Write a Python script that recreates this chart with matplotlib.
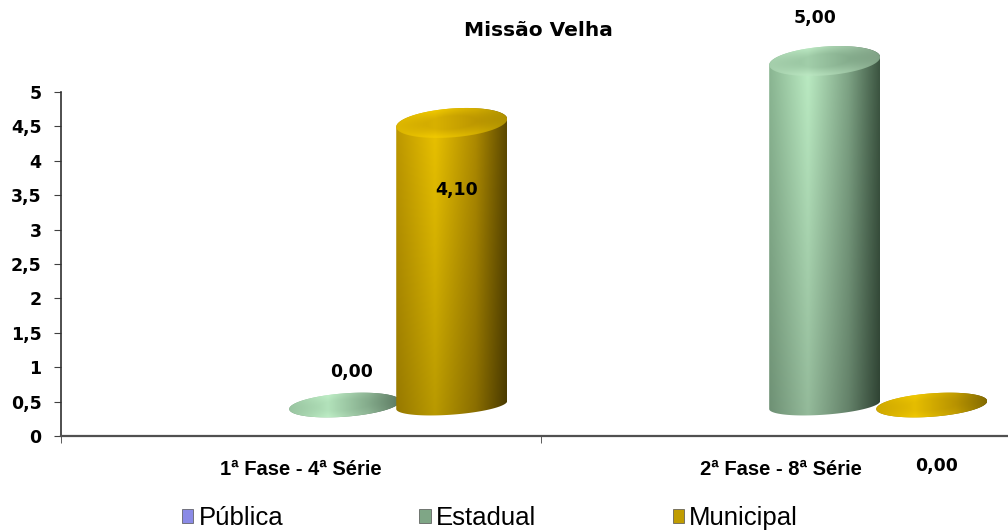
import numpy as np
import matplotlib
matplotlib.use("Agg")
import matplotlib.pyplot as plt
from matplotlib.colors import LinearSegmentedColormap, to_rgb
from matplotlib.patches import PathPatch, Patch
from matplotlib.path import Path

categories = ["1ª Fase - 4ª Série", "2ª Fase - 8ª Série"]
series = ["Pública", "Estadual", "Municipal"]
publica = [np.nan, np.nan]
estadual = [0.00, 5.00]
municipal = [4.10, 0.00]
values = [publica, estadual, municipal]
yticks = np.arange(0, 5.01, 0.5)

# side shading (left -> right) and top colours per series
side_stops = {
    "Pública": ["#7070c8", "#a0a0f4", "#6868b8", "#3c3c78"],
    "Estadual": ["#8cb894", "#bdeec5", "#7fa586", "#3d5642"],
    "Municipal": ["#c09a00", "#ecc400", "#b08c00", "#5e4a00"],
}
top_colors = {
    "Pública": ("#7c7cd0", "#a8a8f0"),
    "Estadual": ("#88b090", "#b4dcba"),
    "Municipal": ("#c49e00", "#eec800"),
}
legend_colors = {"Pública": "#8a8ae6", "Estadual": "#7fa686", "Municipal": "#c09c00"}

# pseudo-3d geometry (data units)
slot = 0.223      # distance between series inside a category
depth_dx = 0.091  # floor shift to the right
depth_dy = 0.45   # floor lift
half_w = 0.1156
b_top, b_bottom, b_flat = 0.21, 0.14, 0.17
shear = 0.5

# value label offsets in pixels (dx, dy from the mark's top)
label_off = {
    ("Estadual", 0): (7, 33), ("Municipal", 0): (5, -67),
    ("Estadual", 1): (-10, 43), ("Municipal", 1): (5, -61),
}

fig = plt.figure(figsize=(10.08, 5.31), dpi=100)
ax = fig.add_axes([61 / 1008, 95 / 531, 960 / 1008, 344 / 531])


def ellipse_xy(xc, yc, b, th):
    x = xc + half_w * np.cos(th)
    y = yc + b * np.sin(th) + shear * half_w * np.cos(th)
    return x, y


def cylinder(ax, name, xc, y0, y1, z):
    flat = y1 - y0 < 1e-9
    bt = b_flat if flat else b_top
    bb = b_flat if flat else b_bottom
    th_bot = np.linspace(np.pi, 2 * np.pi, 60)
    th_top = np.linspace(0, np.pi, 60)
    bx, by = ellipse_xy(xc, y0, bb, th_bot)
    tx, ty = ellipse_xy(xc, y1, bt, th_top)
    verts = np.column_stack([np.r_[bx, tx], np.r_[by, ty]])
    body = PathPatch(Path(verts, closed=False), transform=ax.transData,
                     facecolor="none", edgecolor="none", clip_on=False)
    ax.add_patch(body)

    ylo = y0 - bb - shear * half_w
    yhi = y1 + bt + shear * half_w
    cmap = LinearSegmentedColormap.from_list(
        name, list(zip([0, 0.35, 0.72, 1], side_stops[name])))
    t = np.linspace(0, 1, 200)
    rgb = cmap(t)[:, :3]
    v = np.linspace(0, 1, 200)
    shade = 1.0 - 0.22 * v
    img = np.clip(rgb[None, :, :] * shade[:, None, None], 0, 1)
    im = ax.imshow(img, extent=(xc - half_w, xc + half_w, ylo, yhi),
                   origin="upper", aspect="auto", interpolation="bilinear",
                   zorder=z)
    im.set_clip_box(fig.bbox)
    im.set_clip_path(body)

    # top face with a soft dimple
    th = np.linspace(0, 2 * np.pi, 120)
    ex, ey = ellipse_xy(xc, y1, bt, th)
    top = PathPatch(Path(np.column_stack([ex, ey])), transform=ax.transData,
                    facecolor="none", edgecolor="none", clip_on=False)
    ax.add_patch(top)
    n = 160
    gx = np.linspace(xc - half_w, xc + half_w, n)
    gy = np.linspace(y1 + bt + shear * half_w, y1 - bt - shear * half_w, n)
    X, Y = np.meshgrid(gx, gy)
    u = (X - xc) / half_w
    w = (Y - y1 - shear * (X - xc)) / bt
    r = np.clip(np.sqrt(u ** 2 + w ** 2), 0, 1)
    inner, rim = (np.array(to_rgb(c)) for c in top_colors[name])
    m = np.clip((r - 0.45) / 0.5, 0, 1)[..., None]
    face = inner * (1 - m) + rim * m
    side = cmap((u + 1) / 2)[..., :3]
    mix = 0.25 if flat else 0.55
    face = np.clip(mix * face + (1 - mix) * side * 1.02, 0, 1)
    im2 = ax.imshow(face, extent=(gx[0], gx[-1], gy[-1], gy[0]),
                    origin="upper", aspect="auto", interpolation="bilinear",
                    zorder=z + 0.01)
    im2.set_clip_box(fig.bbox)
    im2.set_clip_path(top)


for si, name in enumerate(series):
    for ci, val in enumerate(values[si]):
        if np.isnan(val):
            continue
        xc = ci + (si - 1) * slot + depth_dx
        y0 = depth_dy
        y1 = depth_dy + val
        cylinder(ax, name, xc, y0, y1, 2 + val)
        dx, dy = label_off[(name, ci)]
        ax.annotate(f"{val:.2f}".replace(".", ","), xy=(xc, y1),
                    xytext=(dx * 0.72, dy * 0.72), textcoords="offset points",
                    ha="center", va="center", fontsize=12.5, fontweight="bold",
                    family="DejaVu Sans", annotation_clip=False, zorder=20)

ax.set_xlim(-0.5, 1.5)
ax.set_ylim(0, 5)
ax.set_yticks(yticks)
ax.set_yticklabels([f"{t:g}".replace(".", ",") for t in yticks],
                   fontsize=12.5, fontweight="bold", family="DejaVu Sans")
ax.set_xticks([0, 1])
ax.set_xticklabels(categories, fontsize=14.5, fontweight="bold",
                   family="Liberation Sans")
ax.set_xticks([-0.5, 0.5, 1.5], minor=True)
ax.tick_params(axis="x", which="major", length=0, pad=17)
ax.tick_params(axis="x", which="minor", length=5, direction="out",
               color="#404040")
ax.tick_params(axis="y", length=5, direction="out", pad=9, color="#404040")
for side in ("top", "right"):
    ax.spines[side].set_visible(False)
ax.spines["left"].set_color("#303030")
ax.spines["left"].set_linewidth(1.2)
ax.spines["bottom"].set_color("#505050")
ax.spines["bottom"].set_linewidth(1.6)
ax.patch.set_visible(False)

fig.text(538 / 1008, 1 - 30 / 531, "Missão Velha", ha="center", va="center",
         fontsize=14.5, fontweight="bold", family="DejaVu Sans")

handles = [Patch(facecolor=legend_colors[s], edgecolor="#505050", linewidth=0.5)
           for s in series]
fig.legend(handles, series, loc="center", ncol=3,
           bbox_to_anchor=(490 / 1008, 1 - 518 / 531), frameon=False,
           prop={"family": "Liberation Sans", "size": 18.5},
           handlelength=0.45, handleheight=0.45, handletextpad=0.2,
           columnspacing=5.3, borderpad=0)

fig.savefig("out.png", dpi=100)
